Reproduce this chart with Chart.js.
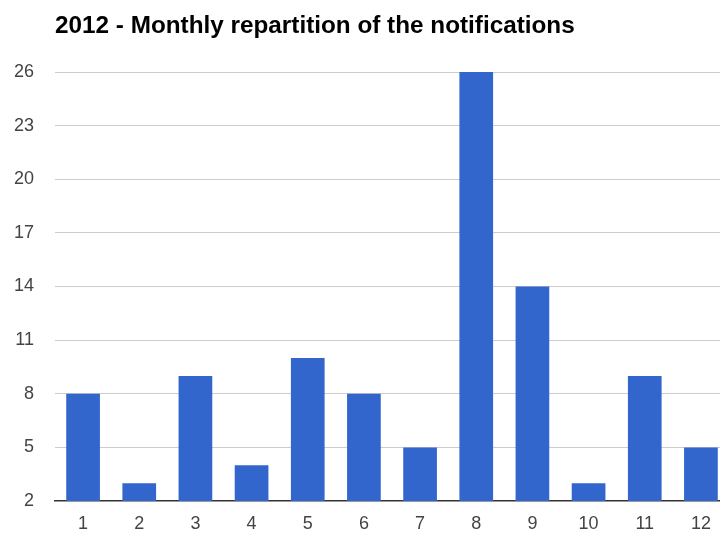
<!DOCTYPE html>
<html>
<head>
<meta charset="utf-8">
<script src="https://cdn.jsdelivr.net/npm/chart.js@4/dist/chart.umd.min.js"></script>
<style>
  html, body { margin: 0; padding: 0; background: #fff; overflow: hidden; }
  #wrap { position: relative; width: 720px; height: 533px; overflow: hidden; }
  #box { position: absolute; left: 0; top: 0; width: 729px; height: 533px; }
</style>
</head>
<body>
<div id="wrap"><div id="box"><canvas id="c"></canvas></div></div>
<script>
const titleText = "2012 - Monthly repartition of the notifications";
const months = ["1", "2", "3", "4", "5", "6", "7", "8", "9", "10", "11", "12"];
const notifications = [8, 3, 9, 4, 10, 8, 5, 26, 14, 3, 9, 5];
const yTicks = [2, 5, 8, 11, 14, 17, 20, 23, 26];

const FONT = "'Liberation Sans', Arial, sans-serif";

const titlePlugin = {
  id: 'customTitle',
  afterDraw(chart) {
    const ctx = chart.ctx;
    ctx.save();
    ctx.font = "bold 24.3px " + FONT;
    ctx.fillStyle = "#000";
    ctx.textAlign = "left";
    ctx.textBaseline = "alphabetic";
    ctx.fillText(titleText, 55, 33);
    ctx.restore();
  }
};

new Chart(document.getElementById('c'), {
  type: 'bar',
  data: {
    labels: months,
    datasets: [{
      label: 'Notifications',
      data: notifications,
      backgroundColor: '#3366cc',
      borderWidth: 0,
      categoryPercentage: 1.0,
      barPercentage: 0.6
    }]
  },
  options: {
    responsive: true,
    maintainAspectRatio: false,
    animation: false,
    devicePixelRatio: 1,
    layout: { padding: { top: 72, left: 0, right: 0, bottom: 0 } },
    plugins: {
      legend: { display: false },
      title: { display: false },
      tooltip: { enabled: false }
    },
    scales: {
      x: {
        grid: { display: false, drawTicks: false },
        border: { display: true, color: '#333', width: 1.5 },
        ticks: { color: '#444', font: { family: FONT, size: 18 }, padding: 12, maxRotation: 0 },
        afterFit(scale) { scale.height = 32; }
      },
      y: {
        min: 2,
        max: 26,
        afterBuildTicks(scale) { scale.ticks = yTicks.map(v => ({ value: v })); },
        grid: {
          drawTicks: false,
          color: (c) => c.tick && c.tick.value === 2 ? 'rgba(0,0,0,0)' : '#cccccc',
          lineWidth: 1
        },
        border: { display: false },
        ticks: { color: '#444', font: { family: FONT, size: 18 }, padding: 21 },
        afterFit(scale) { scale.width = 55; }
      }
    }
  },
  plugins: [titlePlugin]
});
</script>
</body>
</html>
